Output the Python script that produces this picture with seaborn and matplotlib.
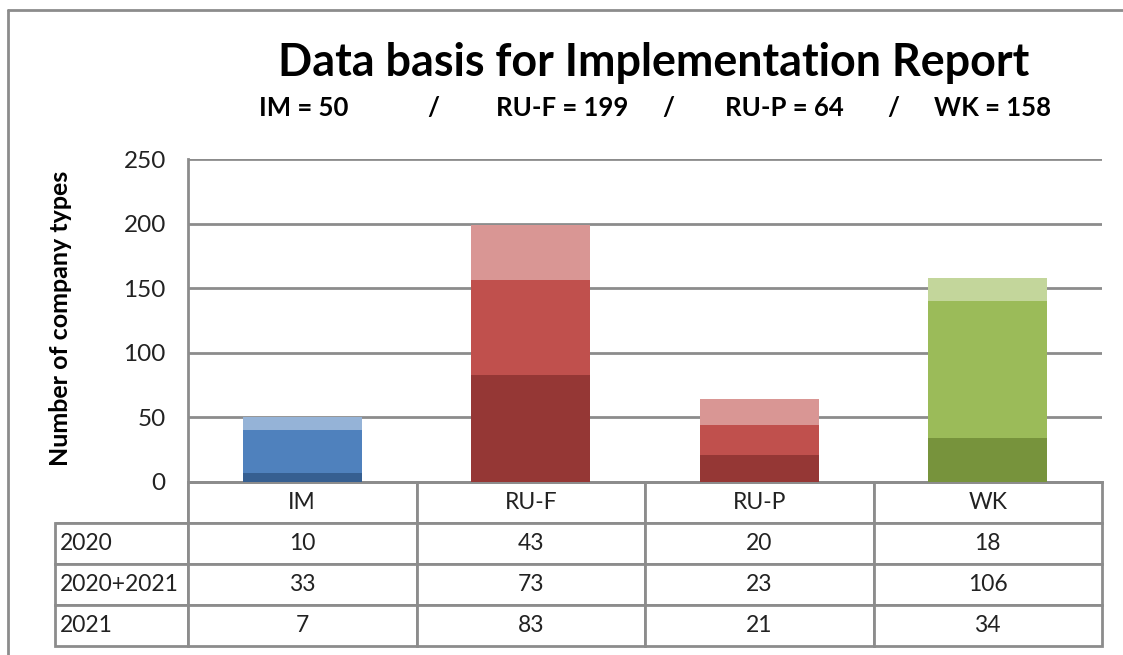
import matplotlib

matplotlib.use("Agg")

import matplotlib.pyplot as plt
import pandas as pd
import seaborn as sns
from matplotlib.lines import Line2D


CATEGORIES = ["IM", "RU-F", "RU-P", "WK"]
ROW_LABELS = ["2020", "2020+2021", "2021"]
VALUES_2020 = [10, 43, 20, 18]
VALUES_2020_2021 = [33, 73, 23, 106]
VALUES_2021 = [7, 83, 21, 34]
Y_TICKS = [0, 50, 100, 150, 200, 250]

COLORS_DARK = ["#365F91", "#953735", "#953735", "#77933C"]
COLORS_MID = ["#4F81BD", "#C0504D", "#C0504D", "#9BBB59"]
COLORS_LIGHT = ["#95B3D7", "#D99694", "#D99694", "#C3D69B"]

GRID_COLOR = "#8C8C8C"
FONT = ["Lato", "DejaVu Sans"]


def build_frame() -> pd.DataFrame:
    df = pd.DataFrame(
        {
            "category": CATEGORIES,
            "y2020": VALUES_2020,
            "y2020_2021": VALUES_2020_2021,
            "y2021": VALUES_2021,
        }
    )
    # stack order from bottom: 2021, 2020+2021, 2020
    df["level1"] = df["y2021"]
    df["level2"] = df["level1"] + df["y2020_2021"]
    df["level3"] = df["level2"] + df["y2020"]
    return df


def plot(df: pd.DataFrame) -> None:
    sns.set_theme(style="white")
    plt.rcParams["font.family"] = FONT

    W, H = 1123, 655
    ax_l, ax_r, ax_t, ax_b = 188, 1102, 159, 482
    tab_l, tab_b = 55, 646
    ax_w, ax_h = ax_r - ax_l, ax_b - ax_t

    fig = plt.figure(figsize=(W / 100, H / 100), dpi=100)
    ax = fig.add_axes([ax_l / W, (H - ax_b) / H, ax_w / W, ax_h / H])

    # draw tallest first so lower segments sit on top
    for col, colors in (("level3", COLORS_LIGHT), ("level2", COLORS_MID), ("level1", COLORS_DARK)):
        sns.barplot(
            data=df,
            x="category",
            y=col,
            hue="category",
            palette=colors,
            legend=False,
            width=0.52,
            saturation=1,
            ax=ax,
            zorder=3,
            linewidth=0,
        )

    ax.set_ylim(0, 250)
    ax.set_xlim(-0.5, len(CATEGORIES) - 0.5)
    ax.set_yticks(Y_TICKS)
    ax.set_yticklabels([str(t) for t in Y_TICKS], fontsize=17.5, color="#222222")
    ax.tick_params(axis="y", length=0, pad=16)
    ax.set_xticks([])
    ax.set_xlabel("")
    ax.set_ylabel("")
    ax.yaxis.grid(True, color=GRID_COLOR, linewidth=2, zorder=0)
    ax.set_axisbelow(True)
    for side in ("top", "right"):
        ax.spines[side].set_visible(False)
    for side in ("left", "bottom"):
        ax.spines[side].set_color(GRID_COLOR)
        ax.spines[side].set_linewidth(2)

    # data table under the axis, first column holds the row labels
    series = [VALUES_2020, VALUES_2020_2021, VALUES_2021]
    cell_text = [[lab] + [str(v) for v in vals] for lab, vals in zip(ROW_LABELS, series)]
    col_w = ax_w / len(CATEGORIES)
    row_label_w = ax_l - tab_l
    total_w = ax_r - tab_l
    table = ax.table(
        cellText=cell_text,
        colLabels=[""] + CATEGORIES,
        cellLoc="center",
        colLoc="center",
        colWidths=[row_label_w / total_w] + [col_w / total_w] * len(CATEGORIES),
        bbox=[(tab_l - ax_l) / ax_w, -(tab_b - ax_b) / ax_h,
              total_w / ax_w, (tab_b - ax_b) / ax_h],
    )
    table.auto_set_font_size(False)
    table.set_fontsize(16.5)
    for (r, c), cell in table.get_celld().items():
        cell.set_edgecolor(GRID_COLOR)
        cell.set_linewidth(2)
        cell.get_text().set_color("#222222")
        cell.get_text().set_fontfamily(FONT)
        if c == 0:
            cell.get_text().set_horizontalalignment("left")
            cell.PAD = 0.04
            if r == 0:
                cell.visible_edges = "BR"

    fig.text(654 / W, 1 - 63 / H, "Data basis for Implementation Report",
             ha="center", va="center", fontsize=32.3, fontweight="bold", color="black")

    totals = [a + b + c for a, b, c in zip(VALUES_2020, VALUES_2020_2021, VALUES_2021)]
    subtitle_x = [304, 562, 784, 993]
    slash_x = [433, 668, 893]
    for x, cat, tot in zip(subtitle_x, CATEGORIES, totals):
        fig.text(x / W, 1 - 108 / H, f"{cat} = {tot}", ha="center", va="center",
                 fontsize=18.5, fontweight="bold", color="black")
    for x in slash_x:
        fig.text(x / W, 1 - 108 / H, "/", ha="center", va="center",
                 fontsize=18.5, fontweight="bold", color="black")

    fig.text(61 / W, 1 - 318 / H, "Number of company types", rotation=90,
             ha="center", va="center", fontsize=18, fontweight="bold", color="black")

    # outer chart-area border: only the top and left edges are inside the picture
    border_x, border_y = 8 / W, 1 - 10 / H
    fig.add_artist(Line2D([border_x, 1.0], [border_y, border_y], transform=fig.transFigure,
                          color=GRID_COLOR, linewidth=2))
    fig.add_artist(Line2D([border_x, border_x], [0.0, border_y], transform=fig.transFigure,
                          color=GRID_COLOR, linewidth=2))

    fig.savefig("out.png", dpi=100)
    plt.close(fig)


def main() -> None:
    plot(build_frame())


if __name__ == "__main__":
    main()
